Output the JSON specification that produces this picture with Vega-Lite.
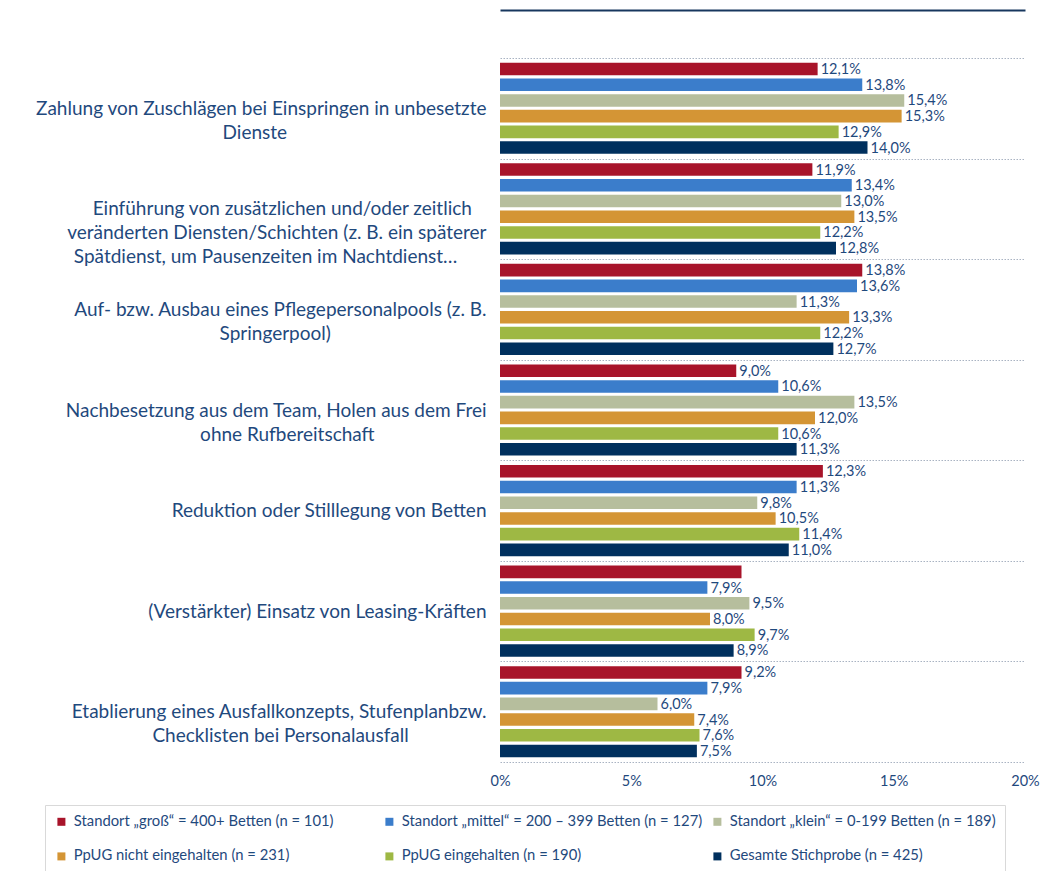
{
  "$schema": "https://vega.github.io/schema/vega-lite/v6.json",
  "autosize": {"type": "none"},
  "padding": {"left": 500, "top": 58, "right": 16, "bottom": 109},
  "width": 525,
  "height": 704,
  "background": "white",
  "config": {"view": {"stroke": null}, "font": "Lato"},
  "data": {"values": [
    {"c": "Zahlung von Zuschlägen bei Einspringen in unbesetzte|Dienste", "s": "Standort „groß“ = 400+ Betten (n = 101)", "v": 12.1, "l": "12,1%"},
    {"c": "Zahlung von Zuschlägen bei Einspringen in unbesetzte|Dienste", "s": "Standort „mittel“ = 200 – 399 Betten (n = 127)", "v": 13.8, "l": "13,8%"},
    {"c": "Zahlung von Zuschlägen bei Einspringen in unbesetzte|Dienste", "s": "Standort „klein“ = 0-199 Betten (n = 189)", "v": 15.4, "l": "15,4%"},
    {"c": "Zahlung von Zuschlägen bei Einspringen in unbesetzte|Dienste", "s": "PpUG nicht eingehalten (n = 231)", "v": 15.3, "l": "15,3%"},
    {"c": "Zahlung von Zuschlägen bei Einspringen in unbesetzte|Dienste", "s": "PpUG eingehalten (n = 190)", "v": 12.9, "l": "12,9%"},
    {"c": "Zahlung von Zuschlägen bei Einspringen in unbesetzte|Dienste", "s": "Gesamte Stichprobe (n = 425)", "v": 14.0, "l": "14,0%"},
    {"c": "Einführung von zusätzlichen und/oder zeitlich|veränderten Diensten/Schichten (z. B. ein späterer|Spätdienst, um Pausenzeiten im Nachtdienst…", "s": "Standort „groß“ = 400+ Betten (n = 101)", "v": 11.9, "l": "11,9%"},
    {"c": "Einführung von zusätzlichen und/oder zeitlich|veränderten Diensten/Schichten (z. B. ein späterer|Spätdienst, um Pausenzeiten im Nachtdienst…", "s": "Standort „mittel“ = 200 – 399 Betten (n = 127)", "v": 13.4, "l": "13,4%"},
    {"c": "Einführung von zusätzlichen und/oder zeitlich|veränderten Diensten/Schichten (z. B. ein späterer|Spätdienst, um Pausenzeiten im Nachtdienst…", "s": "Standort „klein“ = 0-199 Betten (n = 189)", "v": 13.0, "l": "13,0%"},
    {"c": "Einführung von zusätzlichen und/oder zeitlich|veränderten Diensten/Schichten (z. B. ein späterer|Spätdienst, um Pausenzeiten im Nachtdienst…", "s": "PpUG nicht eingehalten (n = 231)", "v": 13.5, "l": "13,5%"},
    {"c": "Einführung von zusätzlichen und/oder zeitlich|veränderten Diensten/Schichten (z. B. ein späterer|Spätdienst, um Pausenzeiten im Nachtdienst…", "s": "PpUG eingehalten (n = 190)", "v": 12.2, "l": "12,2%"},
    {"c": "Einführung von zusätzlichen und/oder zeitlich|veränderten Diensten/Schichten (z. B. ein späterer|Spätdienst, um Pausenzeiten im Nachtdienst…", "s": "Gesamte Stichprobe (n = 425)", "v": 12.8, "l": "12,8%"},
    {"c": "Auf- bzw. Ausbau eines Pflegepersonalpools (z. B.|Springerpool)", "s": "Standort „groß“ = 400+ Betten (n = 101)", "v": 13.8, "l": "13,8%"},
    {"c": "Auf- bzw. Ausbau eines Pflegepersonalpools (z. B.|Springerpool)", "s": "Standort „mittel“ = 200 – 399 Betten (n = 127)", "v": 13.6, "l": "13,6%"},
    {"c": "Auf- bzw. Ausbau eines Pflegepersonalpools (z. B.|Springerpool)", "s": "Standort „klein“ = 0-199 Betten (n = 189)", "v": 11.3, "l": "11,3%"},
    {"c": "Auf- bzw. Ausbau eines Pflegepersonalpools (z. B.|Springerpool)", "s": "PpUG nicht eingehalten (n = 231)", "v": 13.3, "l": "13,3%"},
    {"c": "Auf- bzw. Ausbau eines Pflegepersonalpools (z. B.|Springerpool)", "s": "PpUG eingehalten (n = 190)", "v": 12.2, "l": "12,2%"},
    {"c": "Auf- bzw. Ausbau eines Pflegepersonalpools (z. B.|Springerpool)", "s": "Gesamte Stichprobe (n = 425)", "v": 12.7, "l": "12,7%"},
    {"c": "Nachbesetzung aus dem Team, Holen aus dem Frei|ohne Rufbereitschaft", "s": "Standort „groß“ = 400+ Betten (n = 101)", "v": 9.0, "l": "9,0%"},
    {"c": "Nachbesetzung aus dem Team, Holen aus dem Frei|ohne Rufbereitschaft", "s": "Standort „mittel“ = 200 – 399 Betten (n = 127)", "v": 10.6, "l": "10,6%"},
    {"c": "Nachbesetzung aus dem Team, Holen aus dem Frei|ohne Rufbereitschaft", "s": "Standort „klein“ = 0-199 Betten (n = 189)", "v": 13.5, "l": "13,5%"},
    {"c": "Nachbesetzung aus dem Team, Holen aus dem Frei|ohne Rufbereitschaft", "s": "PpUG nicht eingehalten (n = 231)", "v": 12.0, "l": "12,0%"},
    {"c": "Nachbesetzung aus dem Team, Holen aus dem Frei|ohne Rufbereitschaft", "s": "PpUG eingehalten (n = 190)", "v": 10.6, "l": "10,6%"},
    {"c": "Nachbesetzung aus dem Team, Holen aus dem Frei|ohne Rufbereitschaft", "s": "Gesamte Stichprobe (n = 425)", "v": 11.3, "l": "11,3%"},
    {"c": "Reduktion oder Stilllegung von Betten", "s": "Standort „groß“ = 400+ Betten (n = 101)", "v": 12.3, "l": "12,3%"},
    {"c": "Reduktion oder Stilllegung von Betten", "s": "Standort „mittel“ = 200 – 399 Betten (n = 127)", "v": 11.3, "l": "11,3%"},
    {"c": "Reduktion oder Stilllegung von Betten", "s": "Standort „klein“ = 0-199 Betten (n = 189)", "v": 9.8, "l": "9,8%"},
    {"c": "Reduktion oder Stilllegung von Betten", "s": "PpUG nicht eingehalten (n = 231)", "v": 10.5, "l": "10,5%"},
    {"c": "Reduktion oder Stilllegung von Betten", "s": "PpUG eingehalten (n = 190)", "v": 11.4, "l": "11,4%"},
    {"c": "Reduktion oder Stilllegung von Betten", "s": "Gesamte Stichprobe (n = 425)", "v": 11.0, "l": "11,0%"},
    {"c": "(Verstärkter) Einsatz von Leasing-Kräften", "s": "Standort „groß“ = 400+ Betten (n = 101)", "v": 9.2, "l": ""},
    {"c": "(Verstärkter) Einsatz von Leasing-Kräften", "s": "Standort „mittel“ = 200 – 399 Betten (n = 127)", "v": 7.9, "l": "7,9%"},
    {"c": "(Verstärkter) Einsatz von Leasing-Kräften", "s": "Standort „klein“ = 0-199 Betten (n = 189)", "v": 9.5, "l": "9,5%"},
    {"c": "(Verstärkter) Einsatz von Leasing-Kräften", "s": "PpUG nicht eingehalten (n = 231)", "v": 8.0, "l": "8,0%"},
    {"c": "(Verstärkter) Einsatz von Leasing-Kräften", "s": "PpUG eingehalten (n = 190)", "v": 9.7, "l": "9,7%"},
    {"c": "(Verstärkter) Einsatz von Leasing-Kräften", "s": "Gesamte Stichprobe (n = 425)", "v": 8.9, "l": "8,9%"},
    {"c": "Etablierung eines Ausfallkonzepts, Stufenplanbzw.|Checklisten bei Personalausfall", "s": "Standort „groß“ = 400+ Betten (n = 101)", "v": 9.2, "l": "9,2%"},
    {"c": "Etablierung eines Ausfallkonzepts, Stufenplanbzw.|Checklisten bei Personalausfall", "s": "Standort „mittel“ = 200 – 399 Betten (n = 127)", "v": 7.9, "l": "7,9%"},
    {"c": "Etablierung eines Ausfallkonzepts, Stufenplanbzw.|Checklisten bei Personalausfall", "s": "Standort „klein“ = 0-199 Betten (n = 189)", "v": 6.0, "l": "6,0%"},
    {"c": "Etablierung eines Ausfallkonzepts, Stufenplanbzw.|Checklisten bei Personalausfall", "s": "PpUG nicht eingehalten (n = 231)", "v": 7.4, "l": "7,4%"},
    {"c": "Etablierung eines Ausfallkonzepts, Stufenplanbzw.|Checklisten bei Personalausfall", "s": "PpUG eingehalten (n = 190)", "v": 7.6, "l": "7,6%"},
    {"c": "Etablierung eines Ausfallkonzepts, Stufenplanbzw.|Checklisten bei Personalausfall", "s": "Gesamte Stichprobe (n = 425)", "v": 7.5, "l": "7,5%"}
  ]},
  "encoding": {
    "y": {
      "field": "c", "type": "nominal", "sort": null,
      "scale": {"paddingInner": 0, "paddingOuter": 0},
      "axis": {
        "title": null, "domain": false, "ticks": false,
        "grid": true, "tickBand": "extent",
        "gridColor": "#A9B3C2", "gridDash": [1.5, 1.5], "gridWidth": 1,
        "labelExpr": "length(split(datum.label, '|')) == 1 ? split(datum.label, '|') : length(split(datum.label, '|')) == 2 ? [pad(split(datum.label, '|')[0], length(split(datum.label, '|')[0]) + round((max(length(split(datum.label, '|')[0]), length(split(datum.label, '|')[1])) - length(split(datum.label, '|')[0])) * 0.9), '\u00a0') + '\u200b', pad(split(datum.label, '|')[1], length(split(datum.label, '|')[1]) + round((max(length(split(datum.label, '|')[0]), length(split(datum.label, '|')[1])) - length(split(datum.label, '|')[1])) * 0.9), '\u00a0') + '\u200b'] : [pad(split(datum.label, '|')[0], length(split(datum.label, '|')[0]) + round((max(length(split(datum.label, '|')[0]), length(split(datum.label, '|')[1]), length(split(datum.label, '|')[2])) - length(split(datum.label, '|')[0])) * 0.6), '\u00a0') + '\u200b', pad(split(datum.label, '|')[1], length(split(datum.label, '|')[1]) + round((max(length(split(datum.label, '|')[0]), length(split(datum.label, '|')[1]), length(split(datum.label, '|')[2])) - length(split(datum.label, '|')[1])) * 0.9), '\u00a0') + '\u200b', pad(split(datum.label, '|')[2], length(split(datum.label, '|')[2]) + round((max(length(split(datum.label, '|')[0]), length(split(datum.label, '|')[1]), length(split(datum.label, '|')[2])) - length(split(datum.label, '|')[2])) * 0.9), '\u00a0') + '\u200b']",
        "labelAlign": "right", "labelBaseline": "middle",
        "labelLineHeight": 24, "labelFontSize": 19, "labelFont": "Lato",
        "labelColor": "#1F497D", "labelLimit": 700, "labelPadding": 14
      }
    },
    "yOffset": {"field": "s", "type": "nominal", "sort": null, "scale": {"paddingInner": 0.2, "paddingOuter": 0.3}},
    "x": {
      "field": "v", "type": "quantitative",
      "scale": {"domain": [0, 20], "nice": false},
      "axis": {
        "orient": "bottom", "values": [0, 5, 10, 15, 20],
        "labelExpr": "datum.value + '%'",
        "domain": false, "ticks": false, "grid": false, "title": null,
        "labelPadding": 12, "labelFontSize": 14.5, "labelFont": "Lato",
        "labelColor": "#1F497D", "labelFlush": false
      }
    }
  },
  "layer": [
    {
      "mark": {"type": "bar"},
      "encoding": {
        "color": {
          "field": "s", "type": "nominal", "sort": null,
          "scale": {
            "domain": [
              "Standort „groß“ = 400+ Betten (n = 101)",
              "Standort „mittel“ = 200 – 399 Betten (n = 127)",
              "Standort „klein“ = 0-199 Betten (n = 189)",
              "PpUG nicht eingehalten (n = 231)",
              "PpUG eingehalten (n = 190)",
              "Gesamte Stichprobe (n = 425)"
            ],
            "range": ["#A8142A", "#3B7DCB", "#B6BE9D", "#D49535", "#9EB844", "#00305E"]
          },
          "legend": {
            "orient": "none", "legendX": -455, "legendY": 747,
            "columns": 3, "direction": "horizontal", "title": null,
            "symbolType": "square", "symbolSize": 64, "symbolStrokeWidth": 0,
            "labelFontSize": 14.8, "labelFont": "Lato", "labelColor": "#1F497D",
            "labelLimit": 400, "labelOffset": 5,
            "gridAlign": "all", "columnPadding": 7, "rowPadding": 19,
            "padding": 9, "strokeColor": "#D9D9D9"
          }
        }
      }
    },
    {
      "mark": {"type": "text", "align": "left", "baseline": "middle", "dx": 3, "dy": 1, "fontSize": 14.5, "font": "Lato", "color": "#1F497D"},
      "encoding": {
        "x": {
          "field": "v", "type": "quantitative",
          "axis": {
            "orient": "top", "offset": 48, "domain": true,
            "domainColor": "#17375E", "domainWidth": 2,
            "ticks": false, "labels": false, "grid": false, "title": null
          }
        },
        "text": {"field": "l"}
      }
    }
  ]
}
